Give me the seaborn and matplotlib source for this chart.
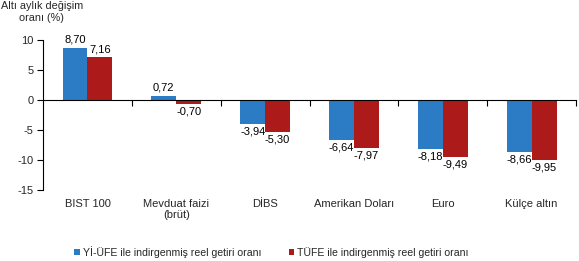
import matplotlib
matplotlib.use("Agg")
import matplotlib.pyplot as plt
import seaborn as sns
import pandas as pd
from matplotlib.patches import Patch

categories = ["BIST 100", "Mevduat faizi\n(brüt)", "DİBS", "Amerikan Doları", "Euro", "Külçe altın"]
yi_ufe = [8.70, 0.72, -3.94, -6.64, -8.18, -8.66]
tufe = [7.16, -0.70, -5.30, -7.97, -9.49, -9.95]
series_names = ["Yİ-ÜFE ile indirgenmiş reel getiri oranı", "TÜFE ile indirgenmiş reel getiri oranı"]
colors = ["#2B7CC4", "#AD1A1A"]
yticks = [-15, -10, -5, 0, 5, 10]

sns.set_theme(style="white")
plt.rcParams['font.family'] = ['Liberation Sans', 'DejaVu Sans']

df = pd.DataFrame({
    "cat": categories * 2,
    "val": yi_ufe + tufe,
    "series": [series_names[0]] * len(categories) + [series_names[1]] * len(categories),
})

fig = plt.figure(figsize=(5.79, 2.61), dpi=100)
ax = fig.add_axes([0.0743, 0.272, 0.9207, 0.575])
sns.barplot(data=df, x="cat", y="val", hue="series", palette=colors, width=0.56,
            saturation=1, linewidth=0, ax=ax, legend=False)

for cont, vals in zip(ax.containers, [yi_ufe, tufe]):
    labels = [f"{v:.2f}".replace(".", ",") for v in vals]
    ax.bar_label(cont, labels=labels, padding=2, fontsize=8, color="#000000")

ax.set_ylim(-15, 10)
ax.set_xlim(-0.5, len(categories) - 0.5)
ax.set_yticks(yticks)
ax.set_yticklabels([str(t) for t in yticks], fontsize=8)
ax.tick_params(axis="y", direction="out", length=4, width=0.8, color="black", pad=3, left=True)

for s in ["top", "right"]:
    ax.spines[s].set_visible(False)
ax.spines["left"].set_color("black")
ax.spines["left"].set_linewidth(0.8)
ax.spines["bottom"].set_position(("data", 0))
ax.spines["bottom"].set_color("black")
ax.spines["bottom"].set_linewidth(0.8)

ax.set_xticks([])
ax.set_xticks([i + 0.5 for i in range(len(categories))], minor=True)
ax.tick_params(axis="x", which="minor", direction="out", length=4, width=0.8, color="black", bottom=True)
ax.set_xlabel("")
ax.set_ylabel("")

trans = ax.get_xaxis_transform()
for i, c in enumerate(categories):
    ax.text(i, -0.06, c, transform=trans, ha="center", va="top", fontsize=8, linespacing=1.1)

fig.text(0.072, 0.995, "Altı aylık değişim\noranı (%)", ha="center", va="top", fontsize=7.8, linespacing=1.15)

handles = [Patch(facecolor=c, edgecolor="none") for c in colors]
fig.legend(handles, series_names, loc="center left", bbox_to_anchor=(0.128, 0.035), ncol=2,
           frameon=False, fontsize=7.6, handlelength=0.55, handleheight=0.6, handletextpad=0.25,
           columnspacing=2.6, borderpad=0, borderaxespad=0)

fig.savefig("out.png", dpi=100)
